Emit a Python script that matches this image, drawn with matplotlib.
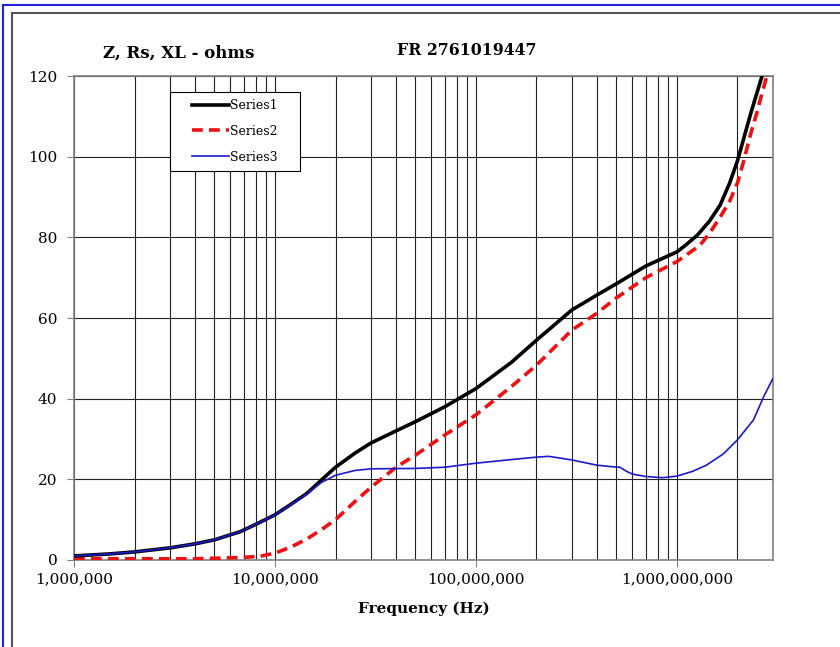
import matplotlib
matplotlib.use('Agg')
import matplotlib.pyplot as plt
from matplotlib.lines import Line2D
from matplotlib.legend_handler import HandlerLine2D
from matplotlib.ticker import FuncFormatter, LogLocator, NullFormatter

plt.rcParams['font.family'] = 'DejaVu Serif'

# Series1 (Z), black
f1 = [1e6, 1.5e6, 2e6, 3e6, 4e6, 5e6, 6.7e6, 8e6, 1e7, 1.2e7, 1.44e7, 1.7e7,
      2e7, 2.5e7, 3e7, 4e7, 5e7, 7e7, 1e8, 1.5e8, 2e8, 3e8, 4e8, 5e8, 7e8,
      1e9, 1.1e9, 1.26e9, 1.45e9, 1.64e9, 1.83e9, 2e9, 2.33e9, 2.65e9]
z1 = [1.0, 1.5, 2.0, 3.0, 4.0, 5.0, 7.0, 8.8, 11.2, 13.8, 16.5, 19.8,
      23.0, 26.5, 29.0, 32.0, 34.3, 38.0, 42.5, 49.0, 54.5, 62.0, 65.7, 68.5, 72.9,
      76.4, 78.0, 80.5, 84.0, 88.0, 93.5, 99.0, 110.8, 120.0]

# Series2 (Rs), red dashed
f2 = [1e6, 2e6, 4e6, 6.7e6, 8.4e6, 1e7, 1.2e7, 1.44e7, 1.7e7, 2e7, 2.5e7, 3e7,
      4e7, 5e7, 7e7, 1e8, 1.5e8, 2e8, 3e8, 4e8, 5e8, 7e8, 1e9, 1.3e9, 1.45e9,
      1.64e9, 1.83e9, 2e9, 2.15e9, 2.33e9, 2.5e9, 2.65e9, 2.8e9]
rs = [0.3, 0.3, 0.3, 0.6, 0.9, 1.7, 3.2, 5.2, 7.5, 10.0, 14.5, 18.0,
      23.0, 26.0, 31.0, 36.0, 43.0, 48.3, 57.0, 61.2, 65.0, 70.0, 74.0, 78.0, 81.0,
      85.0, 89.0, 93.5, 99.0, 105.8, 111.0, 115.8, 120.0]

# Series3 (XL), blue
f3 = [1e6, 1.5e6, 2e6, 3e6, 4e6, 5e6, 6.7e6, 8e6, 1e7, 1.2e7, 1.44e7, 1.7e7,
      2e7, 2.5e7, 3e7, 5e7, 7e7, 1e8, 1.5e8, 2e8, 2.3e8, 3e8, 4e8, 4.8e8, 5.2e8,
      5.6e8, 6e8, 7e8, 8.5e8, 1e9, 1.2e9, 1.4e9, 1.7e9, 2e9, 2.4e9, 2.7e9, 3e9]
xl = [1.0, 1.5, 2.0, 3.0, 4.0, 5.0, 7.0, 8.8, 11.2, 13.7, 16.3, 19.2,
      21.0, 22.2, 22.6, 22.7, 23.0, 24.0, 24.9, 25.5, 25.7, 24.8, 23.5, 23.1, 23.0,
      22.0, 21.3, 20.7, 20.4, 20.8, 22.0, 23.5, 26.3, 29.8, 34.7, 40.5, 45.0]


class LeadHandler(HandlerLine2D):
    # legend line starts part way into the handle box, like the Excel legend
    def get_xdata(self, legend, xdescent, ydescent, width, height, fontsize):
        return [-xdescent + 0.28 * width, -xdescent + width], [-xdescent + 0.6 * width]


fig = plt.figure(figsize=(8.4, 6.47), dpi=100)
ax = fig.add_axes([0.0881, 0.1345, 0.832, 0.748])

l1, = ax.plot(f1, z1, color='black', lw=2.6, label='Series1', zorder=4)
l2, = ax.plot(f2, rs, color='#ee1111', lw=2.6, ls=(0, (3, 1.7)), label='Series2', zorder=3)
l3, = ax.plot(f3, xl, color='#1a1acc', lw=1.2, label='Series3', zorder=5)

ax.set_xscale('log')
ax.set_xlim(1e6, 3e9)
ax.set_ylim(0, 120)
ax.set_yticks(range(0, 121, 20))
ax.xaxis.set_major_locator(LogLocator(base=10, numticks=10))
ax.xaxis.set_minor_locator(LogLocator(base=10, subs=range(2, 10), numticks=20))
ax.xaxis.set_minor_formatter(NullFormatter())
ax.xaxis.set_major_formatter(FuncFormatter(lambda v, p: '{:,.0f}'.format(v)))

ax.grid(True, which='both', axis='x', color='#222222', lw=0.8)
ax.grid(True, which='major', axis='y', color='#222222', lw=0.8)
ax.set_axisbelow(True)
for s in ax.spines.values():
    s.set_color('#808080')
    s.set_linewidth(1.2)
ax.tick_params(axis='both', which='major', direction='out', length=5, color='#808080',
               labelsize=11)
ax.tick_params(axis='y', pad=7)
ax.tick_params(axis='x', pad=4)
ax.tick_params(axis='x', which='minor', length=0)

ax.set_xlabel('Frequency (Hz)', fontsize=11, fontweight='bold', labelpad=11)
fig.text(0.2125, 0.918, 'Z, Rs, XL - ohms', ha='center', va='center', fontsize=12, fontweight='bold')
fig.text(0.556, 0.922, 'FR 2761019447', ha='center', va='center', fontsize=11.3, fontweight='bold')

hmap = {l1: LeadHandler(), l2: LeadHandler(), l3: LeadHandler()}
leg = ax.legend(loc='upper left', bbox_to_anchor=(0.137, 0.968 - 0.161, 0.186, 0.161),
                mode='expand', borderaxespad=0, handler_map=hmap,
                fontsize=9, frameon=True, fancybox=False, framealpha=1,
                handlelength=4.15, handletextpad=0.1, labelspacing=1.02, borderpad=0.6)
leg.get_frame().set_edgecolor('black')
leg.get_frame().set_linewidth(0.8)
leg.set_zorder(10)

# outer frame lines
W, H = 840.0, 647.0
fig.add_artist(Line2D([3 / W, 1], [1 - 5 / H, 1 - 5 / H], color='#2222dd', lw=1.5))
fig.add_artist(Line2D([3 / W, 3 / W], [0, 1 - 5 / H], color='#2222dd', lw=1.5))
fig.add_artist(Line2D([12 / W, 1], [1 - 13 / H, 1 - 13 / H], color='#555555', lw=1.5))
fig.add_artist(Line2D([12 / W, 12 / W], [0, 1 - 13 / H], color='#555555', lw=1.5))

plt.savefig('out.png', dpi=100)
